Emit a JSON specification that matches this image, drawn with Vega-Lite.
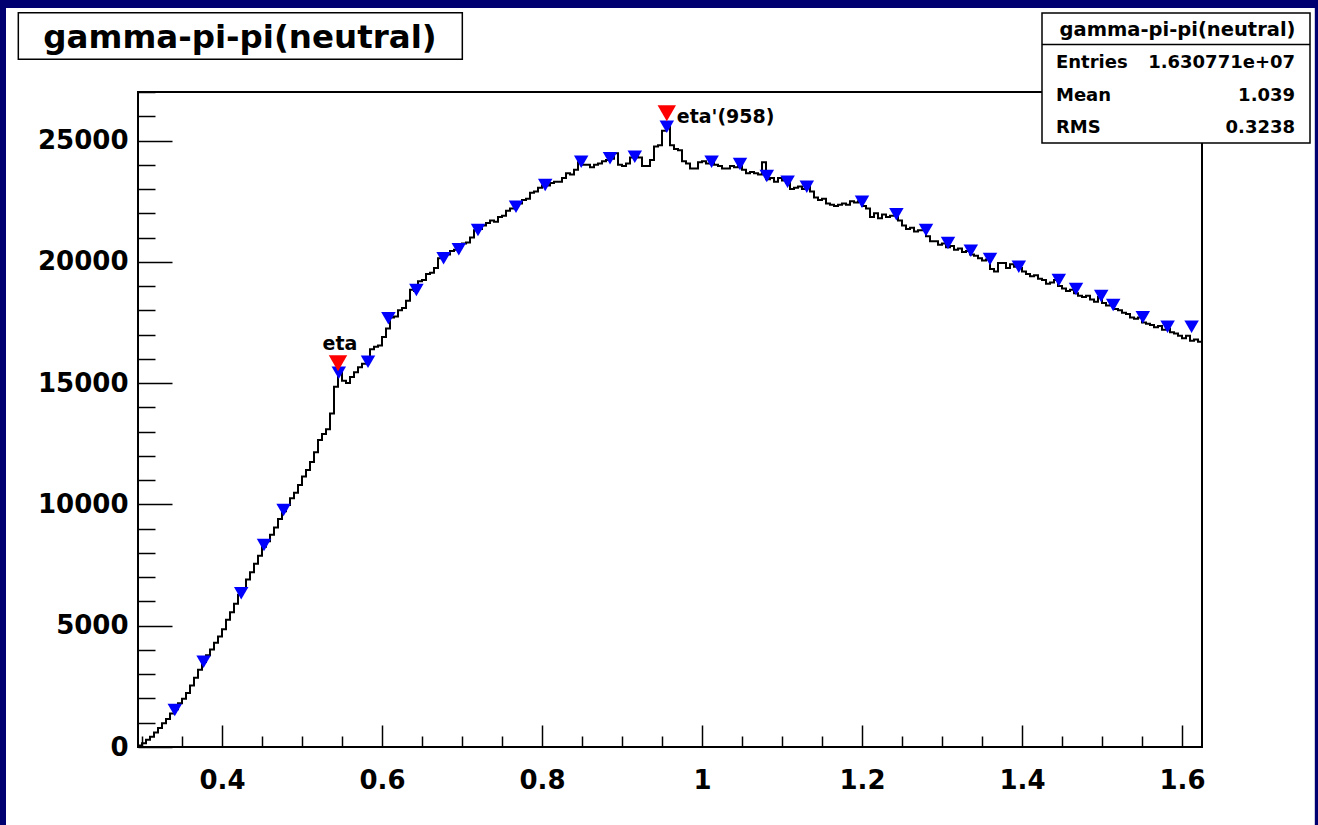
{
  "$schema": "https://vega.github.io/schema/vega-lite/v6.json",
  "width": 1064,
  "height": 655,
  "autosize": {"type": "none"},
  "padding": {"left": 138, "top": 92, "right": 116, "bottom": 78},
  "background": "#000070",
  "view": {"stroke": null},
  "config": {
    "font": "DejaVu Sans",
    "text": {"font": "DejaVu Sans", "fontWeight": "bold", "color": "black"},
    "axis": {
      "domain": false, "grid": false,
      "labelFont": "DejaVu Sans", "labelFontWeight": "bold", "labelFontSize": 26, "labelColor": "black",
      "tickColor": "black", "tickWidth": 1.5,
      "labelFlush": false, "labelOverlap": false, "labelBound": false
    },
    "axisX": {
      "tickCount": 27,
      "format": "~g",
      "labelExpr": "abs(datum.value*5 - round(datum.value*5)) < 0.000001 ? datum.label : ''",
      "tickSize": {"condition": {"test": "abs(datum.value*5 - round(datum.value*5)) < 0.000001", "value": -22}, "value": -11},
      "labelPadding": 42
    },
    "axisY": {
      "tickCount": 27,
      "format": "d",
      "labelExpr": "datum.value % 5000 === 0 ? datum.label : ''",
      "tickSize": {"condition": {"test": "datum.value % 5000 === 0", "value": -34}, "value": -17},
      "labelPadding": 44
    }
  },
  "datasets": {
    "hist": [
      {"x":0.295,"n":60},{"x":0.3,"n":150},{"x":0.305,"n":300},{"x":0.31,"n":420},{"x":0.315,"n":600},
      {"x":0.32,"n":780},{"x":0.325,"n":980},{"x":0.33,"n":1150},{"x":0.335,"n":1380},{"x":0.34,"n":1560},
      {"x":0.345,"n":1800},{"x":0.35,"n":1990},{"x":0.355,"n":2230},{"x":0.36,"n":2540},{"x":0.365,"n":2850},
      {"x":0.37,"n":3180},{"x":0.375,"n":3500},{"x":0.38,"n":3780},{"x":0.385,"n":4020},{"x":0.39,"n":4300},
      {"x":0.395,"n":4560},{"x":0.4,"n":4850},{"x":0.405,"n":5250},{"x":0.41,"n":5550},{"x":0.415,"n":5900},
      {"x":0.42,"n":6280},{"x":0.425,"n":6550},{"x":0.43,"n":6900},{"x":0.435,"n":7200},{"x":0.44,"n":7550},
      {"x":0.445,"n":7880},{"x":0.45,"n":8250},{"x":0.455,"n":8480},{"x":0.46,"n":8750},{"x":0.465,"n":9050},
      {"x":0.47,"n":9400},{"x":0.475,"n":9720},{"x":0.48,"n":9980},{"x":0.485,"n":10250},{"x":0.49,"n":10480},
      {"x":0.495,"n":10800},{"x":0.5,"n":11150},{"x":0.505,"n":11420},{"x":0.51,"n":11750},{"x":0.515,"n":12150},
      {"x":0.52,"n":12650},{"x":0.525,"n":12900},{"x":0.53,"n":13100},{"x":0.535,"n":13750},{"x":0.54,"n":14850},
      {"x":0.545,"n":15450},{"x":0.55,"n":15100},{"x":0.555,"n":15000},{"x":0.56,"n":15250},{"x":0.565,"n":15450},
      {"x":0.57,"n":15650},{"x":0.575,"n":15800},{"x":0.58,"n":15900},{"x":0.585,"n":16400},{"x":0.59,"n":16500},
      {"x":0.595,"n":16550},{"x":0.6,"n":16900},{"x":0.605,"n":17250},{"x":0.61,"n":17700},{"x":0.615,"n":17750},
      {"x":0.62,"n":18000},{"x":0.625,"n":18100},{"x":0.63,"n":18400},{"x":0.635,"n":18850},{"x":0.64,"n":18800},
      {"x":0.645,"n":19200},{"x":0.65,"n":19250},{"x":0.655,"n":19500},{"x":0.66,"n":19550},{"x":0.665,"n":19750},
      {"x":0.67,"n":20150},{"x":0.675,"n":20200},{"x":0.68,"n":20300},{"x":0.685,"n":20450},{"x":0.69,"n":20500},
      {"x":0.695,"n":20600},{"x":0.7,"n":20750},{"x":0.705,"n":20800},{"x":0.71,"n":21000},{"x":0.715,"n":21300},
      {"x":0.72,"n":21350},{"x":0.725,"n":21500},{"x":0.73,"n":21600},{"x":0.735,"n":21700},{"x":0.74,"n":21650},
      {"x":0.745,"n":21850},{"x":0.75,"n":21900},{"x":0.755,"n":22100},{"x":0.76,"n":22200},{"x":0.765,"n":22280},
      {"x":0.77,"n":22400},{"x":0.775,"n":22550},{"x":0.78,"n":22600},{"x":0.785,"n":22850},{"x":0.79,"n":22900},
      {"x":0.795,"n":23050},{"x":0.8,"n":23150},{"x":0.805,"n":23150},{"x":0.81,"n":23250},{"x":0.815,"n":23300},
      {"x":0.82,"n":23300},{"x":0.825,"n":23450},{"x":0.83,"n":23650},{"x":0.835,"n":23600},{"x":0.84,"n":23800},
      {"x":0.845,"n":24100},{"x":0.85,"n":24000},{"x":0.855,"n":24000},{"x":0.86,"n":23900},{"x":0.865,"n":24000},
      {"x":0.87,"n":24050},{"x":0.875,"n":24150},{"x":0.88,"n":24200},{"x":0.885,"n":24250},{"x":0.89,"n":24480},
      {"x":0.895,"n":24000},{"x":0.9,"n":23950},{"x":0.905,"n":24050},{"x":0.91,"n":24300},{"x":0.915,"n":24350},
      {"x":0.92,"n":24300},{"x":0.925,"n":23950},{"x":0.93,"n":23950},{"x":0.935,"n":24200},{"x":0.94,"n":24750},
      {"x":0.945,"n":24800},{"x":0.95,"n":25400},{"x":0.955,"n":25650},{"x":0.96,"n":24800},{"x":0.965,"n":24650},
      {"x":0.97,"n":24600},{"x":0.975,"n":24150},{"x":0.98,"n":24050},{"x":0.985,"n":23850},{"x":0.99,"n":23850},
      {"x":0.995,"n":24100},{"x":1.0,"n":24150},{"x":1.005,"n":24050},{"x":1.01,"n":24100},{"x":1.015,"n":24000},
      {"x":1.02,"n":23950},{"x":1.025,"n":23850},{"x":1.03,"n":23850},{"x":1.035,"n":23950},{"x":1.04,"n":23900},
      {"x":1.045,"n":23950},{"x":1.05,"n":23800},{"x":1.055,"n":23650},{"x":1.06,"n":23700},{"x":1.065,"n":23650},
      {"x":1.07,"n":23600},{"x":1.075,"n":24100},{"x":1.08,"n":23400},{"x":1.085,"n":23450},{"x":1.09,"n":23300},
      {"x":1.095,"n":23450},{"x":1.1,"n":23350},{"x":1.105,"n":23250},{"x":1.11,"n":23000},{"x":1.115,"n":23050},
      {"x":1.12,"n":23100},{"x":1.125,"n":23000},{"x":1.13,"n":23150},{"x":1.135,"n":22900},{"x":1.14,"n":22650},
      {"x":1.145,"n":22550},{"x":1.15,"n":22600},{"x":1.155,"n":22400},{"x":1.16,"n":22350},{"x":1.165,"n":22300},
      {"x":1.17,"n":22350},{"x":1.175,"n":22400},{"x":1.18,"n":22350},{"x":1.185,"n":22500},{"x":1.19,"n":22450},
      {"x":1.195,"n":22500},{"x":1.2,"n":22300},{"x":1.205,"n":22200},{"x":1.21,"n":21850},{"x":1.215,"n":22000},
      {"x":1.22,"n":21800},{"x":1.225,"n":21950},{"x":1.23,"n":21850},{"x":1.235,"n":21900},{"x":1.24,"n":21900},
      {"x":1.245,"n":21700},{"x":1.25,"n":21500},{"x":1.255,"n":21350},{"x":1.26,"n":21400},{"x":1.265,"n":21250},
      {"x":1.27,"n":21300},{"x":1.275,"n":21300},{"x":1.28,"n":21050},{"x":1.285,"n":20850},{"x":1.29,"n":20850},
      {"x":1.295,"n":20700},{"x":1.3,"n":20750},{"x":1.305,"n":20600},{"x":1.31,"n":20650},{"x":1.315,"n":20500},
      {"x":1.32,"n":20550},{"x":1.325,"n":20400},{"x":1.33,"n":20450},{"x":1.335,"n":20300},{"x":1.34,"n":20250},
      {"x":1.345,"n":20150},{"x":1.35,"n":20050},{"x":1.355,"n":20100},{"x":1.36,"n":19700},{"x":1.365,"n":19600},
      {"x":1.37,"n":19950},{"x":1.375,"n":19950},{"x":1.38,"n":19750},{"x":1.385,"n":19900},{"x":1.39,"n":19800},
      {"x":1.395,"n":19750},{"x":1.4,"n":19600},{"x":1.405,"n":19500},{"x":1.41,"n":19400},{"x":1.415,"n":19450},
      {"x":1.42,"n":19300},{"x":1.425,"n":19250},{"x":1.43,"n":19100},{"x":1.435,"n":19150},{"x":1.44,"n":19250},
      {"x":1.445,"n":19000},{"x":1.45,"n":18900},{"x":1.455,"n":18800},{"x":1.46,"n":18850},{"x":1.465,"n":18700},
      {"x":1.47,"n":18600},{"x":1.475,"n":18550},{"x":1.48,"n":18600},{"x":1.485,"n":18450},{"x":1.49,"n":18350},
      {"x":1.495,"n":18550},{"x":1.5,"n":18300},{"x":1.505,"n":18200},{"x":1.51,"n":18250},{"x":1.515,"n":18050},
      {"x":1.52,"n":18000},{"x":1.525,"n":17900},{"x":1.53,"n":17850},{"x":1.535,"n":17700},{"x":1.54,"n":17650},
      {"x":1.545,"n":17700},{"x":1.55,"n":17500},{"x":1.555,"n":17450},{"x":1.56,"n":17400},{"x":1.565,"n":17300},
      {"x":1.57,"n":17350},{"x":1.575,"n":17200},{"x":1.58,"n":17250},{"x":1.585,"n":17100},{"x":1.59,"n":17050},
      {"x":1.595,"n":16950},{"x":1.6,"n":16850},{"x":1.605,"n":16950},{"x":1.61,"n":16750},{"x":1.615,"n":16800},
      {"x":1.62,"n":16700},{"x":1.625,"n":16700}
    ],
    "markers": [
      {"x":0.341,"n":1525},{"x":0.377,"n":3516},{"x":0.424,"n":6336},{"x":0.4525,"n":8326},{"x":0.477,"n":9769},
      {"x":0.546,"n":15430},{"x":0.5825,"n":15882},{"x":0.608,"n":17671},{"x":0.643,"n":18838},{"x":0.677,"n":20145},
      {"x":0.696,"n":20516},{"x":0.72,"n":21311},{"x":0.7675,"n":22272},{"x":0.804,"n":23166},{"x":0.849,"n":24127},
      {"x":0.885,"n":24267},{"x":0.916,"n":24333},{"x":0.956,"n":25570},{"x":1.012,"n":24127},{"x":1.0475,"n":24032},
      {"x":1.081,"n":23537},{"x":1.107,"n":23302},{"x":1.131,"n":23096},{"x":1.2,"n":22478},{"x":1.243,"n":21958},
      {"x":1.28,"n":21311},{"x":1.3075,"n":20775},{"x":1.336,"n":20458},{"x":1.36,"n":20116},{"x":1.396,"n":19798},
      {"x":1.446,"n":19250},{"x":1.4675,"n":18879},{"x":1.499,"n":18590},{"x":1.514,"n":18219},{"x":1.551,"n":17712},
      {"x":1.582,"n":17325},{"x":1.612,"n":17325}
    ],
    "peaks": [
      {"x":0.545,"n":15816,"label":"eta"},
      {"x":0.956,"n":26121,"label":"eta'(958)"}
    ]
  },
  "layer": [
    {
      "data": {"values": [{}]},
      "mark": {"type": "rect", "fill": "white", "strokeWidth": 0},
      "encoding": {
        "x": {"datum": 0.13, "type": "quantitative"},
        "x2": {"datum": 1.766},
        "y": {"datum": 30463, "type": "quantitative"},
        "y2": {"datum": -3400}
      }
    },
    {
      "data": {"name": "hist"},
      "mark": {"type": "line", "interpolate": "step-after", "color": "black", "strokeWidth": 2},
      "encoding": {
        "x": {
          "field": "x", "type": "quantitative",
          "scale": {"domain": [0.295, 1.625], "nice": false, "zero": false},
          "axis": {"title": null, "zindex": 2}
        },
        "y": {
          "field": "n", "type": "quantitative",
          "scale": {"domain": [0, 27000], "nice": false, "zero": false},
          "axis": {"title": null, "zindex": 2}
        }
      }
    },
    {
      "data": {"values": [{}]},
      "mark": {"type": "rect", "fillOpacity": 0, "stroke": "black", "strokeWidth": 2},
      "encoding": {
        "x": {"datum": 0.295, "type": "quantitative"},
        "x2": {"datum": 1.625},
        "y": {"datum": 0, "type": "quantitative"},
        "y2": {"datum": 27000}
      }
    },
    {
      "data": {"name": "markers"},
      "mark": {"type": "point", "shape": "triangle-down", "filled": true, "color": "#0000ff", "opacity": 1, "size": 210},
      "encoding": {
        "x": {"field": "x", "type": "quantitative"},
        "y": {"field": "n", "type": "quantitative"}
      }
    },
    {
      "data": {"name": "peaks"},
      "mark": {"type": "point", "shape": "triangle-down", "filled": true, "color": "#ff0000", "opacity": 1, "size": 340},
      "encoding": {
        "x": {"field": "x", "type": "quantitative"},
        "y": {"field": "n", "type": "quantitative"}
      }
    },
    {
      "data": {"name": "peaks"},
      "transform": [{"filter": "datum.label === 'eta'"}],
      "mark": {"type": "text", "align": "center", "baseline": "alphabetic", "dx": 2, "dy": -13, "fontSize": 19, "fontWeight": "bold", "font": "DejaVu Sans", "color": "black"},
      "encoding": {
        "x": {"field": "x", "type": "quantitative"},
        "y": {"field": "n", "type": "quantitative"},
        "text": {"field": "label"}
      }
    },
    {
      "data": {"name": "peaks"},
      "transform": [{"filter": "datum.label !== 'eta'"}],
      "mark": {"type": "text", "align": "left", "baseline": "alphabetic", "dx": 10, "dy": 10, "fontSize": 19, "fontWeight": "bold", "font": "DejaVu Sans", "color": "black"},
      "encoding": {
        "x": {"field": "x", "type": "quantitative"},
        "y": {"field": "n", "type": "quantitative"},
        "text": {"field": "label"}
      }
    },
    {
      "data": {"values": [{}]},
      "mark": {"type": "rect", "fill": "white", "stroke": "black", "strokeWidth": 1.5},
      "encoding": {
        "x": {"datum": 0.1454, "type": "quantitative"},
        "x2": {"datum": 0.7004},
        "y": {"datum": 30268, "type": "quantitative"},
        "y2": {"datum": 28348}
      }
    },
    {
      "data": {"values": [{}]},
      "mark": {"type": "text", "align": "center", "baseline": "alphabetic", "fontSize": 32.5, "fontWeight": "bold", "font": "DejaVu Sans", "color": "black"},
      "encoding": {
        "x": {"datum": 0.4225, "type": "quantitative"},
        "y": {"datum": 28801, "type": "quantitative"},
        "text": {"value": "gamma-pi-pi(neutral)"}
      }
    },
    {
      "data": {"values": [{}]},
      "mark": {"type": "rect", "fill": "white", "stroke": "black", "strokeWidth": 1.5},
      "encoding": {
        "x": {"datum": 1.425, "type": "quantitative"},
        "x2": {"datum": 1.76},
        "y": {"datum": 30256, "type": "quantitative"},
        "y2": {"datum": 24898}
      }
    },
    {
      "data": {"values": [{}]},
      "mark": {"type": "rule", "color": "black", "strokeWidth": 1.5},
      "encoding": {
        "x": {"datum": 1.425, "type": "quantitative"},
        "x2": {"datum": 1.76},
        "y": {"datum": 28958, "type": "quantitative"}
      }
    },
    {
      "data": {"values": [{}]},
      "mark": {"type": "text", "align": "center", "baseline": "alphabetic", "fontSize": 19.5, "fontWeight": "bold", "font": "DejaVu Sans", "color": "black"},
      "encoding": {
        "x": {"datum": 1.5944, "type": "quantitative"},
        "y": {"datum": 29308, "type": "quantitative"},
        "text": {"value": "gamma-pi-pi(neutral)"}
      }
    },
    {
      "data": {"values": [{}]},
      "mark": {"type": "text", "align": "left", "baseline": "alphabetic", "fontSize": 18, "lineHeight": 32.5, "fontWeight": "bold", "font": "DejaVu Sans", "color": "black"},
      "encoding": {
        "x": {"datum": 1.4425, "type": "quantitative"},
        "y": {"datum": 27989, "type": "quantitative"},
        "text": {"value": ["Entries", "Mean", "RMS"]}
      }
    },
    {
      "data": {"values": [{}]},
      "mark": {"type": "text", "align": "right", "baseline": "alphabetic", "fontSize": 18, "lineHeight": 32.5, "fontWeight": "bold", "font": "DejaVu Sans", "color": "black"},
      "encoding": {
        "x": {"datum": 1.7413, "type": "quantitative"},
        "y": {"datum": 27989, "type": "quantitative"},
        "text": {"value": ["1.630771e+07", "1.039", "0.3238"]}
      }
    }
  ]
}
